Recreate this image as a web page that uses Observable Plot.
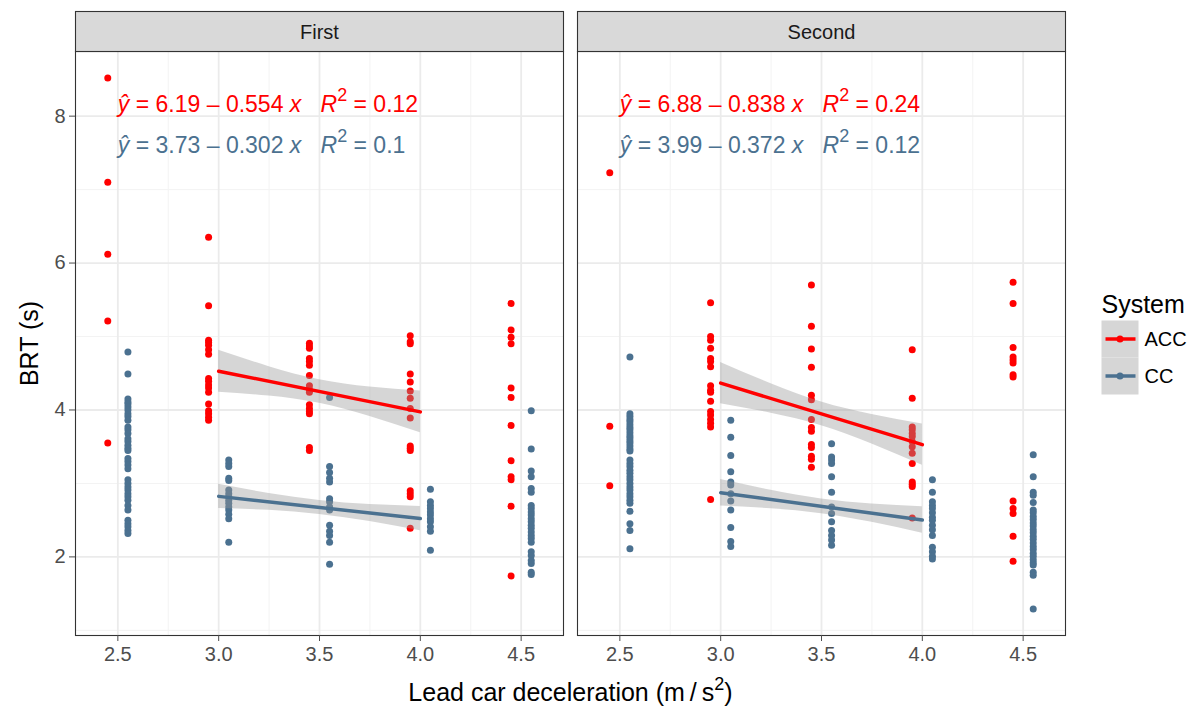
<!DOCTYPE html>
<html>
<head>
<meta charset="utf-8">
<script src="https://cdn.jsdelivr.net/npm/d3@7"></script>
<script src="https://cdn.jsdelivr.net/npm/@observablehq/plot@0.6"></script>
<style>
  body { margin: 0; background: #fff; }
  g[aria-label="x-axis tick"], g[aria-label="y-axis tick"] { stroke: #333333; }
</style>
</head>
<body>
<div id="chart"></div>
<script>
// ---- categories / scales ----
const sessions = ["First", "Second"];
const systems = ["ACC", "CC"];
const systemColors = ["#ff0000", "#4b7190"];
const levels = [2.5, 3.0, 3.5, 4.0, 4.5];
const dodge = { ACC: -0.05, CC: 0.05 };
const xDomain = [2.29, 4.71];
const yDomain = [0.93, 8.88];
const xTicks = [2.5, 3.0, 3.5, 4.0, 4.5];
const xMinor = [2.75, 3.25, 3.75, 4.25];
const yTicks = [2, 4, 6, 8];
const yMinor = [1, 3, 5, 7];

// ---- BRT values (s) per deceleration level ----
const firstACC = [
  [8.52, 7.10, 6.12, 5.21, 3.55],
  [6.35, 5.42, 4.95, 4.92, 4.88, 4.82, 4.76, 4.43, 4.39, 4.34, 4.30, 4.24, 4.08, 3.99, 3.95, 3.90, 3.86],
  [4.91, 4.87, 4.84, 4.70, 4.66, 4.61, 4.47, 4.33, 4.28, 4.24, 4.07, 4.02, 3.98, 3.95, 3.49, 3.45],
  [5.01, 4.93, 4.90, 4.49, 4.38, 4.26, 4.16, 4.02, 3.89, 3.51, 3.48, 3.45, 2.90, 2.86, 2.82, 2.39],
  [5.45, 5.09, 4.99, 4.90, 4.30, 4.17, 3.79, 3.31, 3.09, 3.05, 2.69, 1.74]
];
const firstCC = [
  [4.79, 4.49, 4.15, 4.11, 4.08, 4.04, 4.00, 3.95, 3.91, 3.86, 3.77, 3.73, 3.68, 3.61, 3.57, 3.52, 3.48, 3.45, 3.34, 3.30, 3.25, 3.20, 3.05, 3.00, 2.95, 2.91, 2.86, 2.82, 2.77, 2.70, 2.64, 2.50, 2.45, 2.41, 2.36, 2.32],
  [3.32, 3.27, 3.23, 3.07, 3.04, 2.91, 2.86, 2.82, 2.77, 2.73, 2.68, 2.64, 2.58, 2.52, 2.20],
  [4.17, 3.23, 3.15, 3.07, 3.02, 2.79, 2.75, 2.68, 2.64, 2.43, 2.35, 2.29, 2.20, 1.90],
  [2.92, 2.75, 2.70, 2.66, 2.61, 2.57, 2.52, 2.48, 2.41, 2.35, 2.09],
  [3.99, 3.47, 3.17, 3.09, 2.93, 2.88, 2.70, 2.66, 2.61, 2.57, 2.52, 2.48, 2.43, 2.39, 2.34, 2.29, 2.25, 2.20, 2.07, 2.02, 1.95, 1.91, 1.79, 1.76]
];
const secondACC = [
  [7.23, 3.78, 2.97],
  [5.46, 5.00, 4.95, 4.84, 4.70, 4.66, 4.59, 4.33, 4.27, 4.24, 4.12, 3.98, 3.93, 3.87, 3.82, 3.77, 2.78],
  [5.70, 5.14, 4.83, 4.58, 4.20, 4.14, 3.87, 3.76, 3.71, 3.53, 3.49, 3.37, 3.33, 3.22],
  [4.82, 4.16, 3.77, 3.73, 3.68, 3.64, 3.57, 3.50, 3.41, 3.27, 3.02, 2.99, 2.96, 2.53],
  [5.74, 5.45, 4.85, 4.72, 4.68, 4.64, 4.48, 4.45, 2.76, 2.66, 2.59, 2.28, 1.94]
];
const secondCC = [
  [4.72, 3.95, 3.91, 3.87, 3.84, 3.80, 3.76, 3.73, 3.69, 3.65, 3.62, 3.58, 3.55, 3.51, 3.47, 3.44, 3.32, 3.27, 3.23, 3.18, 3.14, 3.09, 3.05, 3.00, 2.95, 2.91, 2.86, 2.82, 2.77, 2.73, 2.62, 2.45, 2.36, 2.11],
  [3.86, 3.63, 3.38, 3.16, 3.02, 2.98, 2.86, 2.76, 2.64, 2.40, 2.21, 2.14],
  [3.54, 3.36, 3.32, 3.27, 3.09, 2.88, 2.68, 2.59, 2.48, 2.36, 2.29, 2.23, 2.16],
  [3.05, 2.88, 2.75, 2.70, 2.66, 2.60, 2.54, 2.50, 2.43, 2.37, 2.29, 2.13, 2.07, 2.01, 1.97],
  [3.39, 3.09, 2.88, 2.84, 2.74, 2.64, 2.60, 2.55, 2.51, 2.46, 2.42, 2.37, 2.33, 2.28, 2.24, 2.19, 2.14, 2.10, 2.05, 2.01, 1.96, 1.92, 1.89, 1.79, 1.75, 1.29]
];

// ---- fitted regressions (as printed) ----
const fitRange = [3.0, 4.0];
const intercepts = { First: [6.19, 3.73], Second: [6.88, 3.99] };
const slopes = { First: [0.554, 0.302], Second: [0.838, 0.372] };
const r2Labels = { First: ["0.12", "0.1"], Second: ["0.24", "0.12"] };
const ribbonX = [3.0, 3.25, 3.5, 3.75, 4.0];
const ribbonHalf = {
  First:  [[0.285, 0.20, 0.16, 0.20, 0.285], [0.165, 0.115, 0.095, 0.115, 0.165]],
  Second: [[0.28, 0.20, 0.16, 0.20, 0.28], [0.18, 0.125, 0.10, 0.125, 0.18]]
};
const eqX = 2.5;
const eqY = [8.16, 7.60];

// ---- tables ----
const groups = [
  { session: "First", system: "ACC", values: firstACC },
  { session: "First", system: "CC", values: firstCC },
  { session: "Second", system: "ACC", values: secondACC },
  { session: "Second", system: "CC", values: secondCC }
];
const points = [];
for (const g of groups) g.values.forEach((col, i) => col.forEach(v =>
  points.push({ session: g.session, system: g.system, level: levels[i], brt: v })));

const fits = [], ribbons = [], equations = [];
for (const s of sessions) systems.forEach((sys, j) => {
  const a = intercepts[s][j], b = slopes[s][j];
  fitRange.forEach(x => fits.push({ session: s, system: sys, x, y: a - b * x }));
  ribbonX.forEach((x, k) => {
    const f = a - b * x, h = ribbonHalf[s][j][k];
    ribbons.push({ session: s, system: sys, x, lo: f - h, hi: f + h });
  });
  equations.push({ session: s, system: sys, y: eqY[j],
    label: `ŷ = ${a.toFixed(2)} – ${b.toFixed(3)} x\u00A0\u00A0\u00A0R^2 = ${r2Labels[s][j]}` });
});

const plot = Plot.plot({
  width: 1193,
  height: 706,
  marginLeft: 74,
  marginRight: 127,
  marginTop: 51,
  marginBottom: 71,
  style: { fontFamily: "'Liberation Sans', Arial, sans-serif", fontSize: "20px", background: "#fff", color: "#4d4d4d" },
  fx: { domain: sessions, paddingInner: 0.027, paddingOuter: 0, axis: null, label: null },
  x: { domain: xDomain, label: null },
  y: { domain: yDomain, label: null },
  color: { domain: systems, range: systemColors },
  marks: [
    Plot.gridX(xMinor, { stroke: "#f3f3f3", strokeOpacity: 1, strokeWidth: 1 }),
    Plot.gridY(yMinor, { stroke: "#f3f3f3", strokeOpacity: 1, strokeWidth: 1 }),
    Plot.gridX(xTicks, { stroke: "#ebebeb", strokeOpacity: 1, strokeWidth: 1.8 }),
    Plot.gridY(yTicks, { stroke: "#ebebeb", strokeOpacity: 1, strokeWidth: 1.8 }),
    Plot.dot(points, { fx: "session", x: d => d.level + dodge[d.system], y: "brt", fill: "system", r: 3.5 }),
    Plot.areaY(ribbons, { fx: "session", x: "x", y1: "lo", y2: "hi", z: "system", fill: "#999999", fillOpacity: 0.4, curve: "natural" }),
    Plot.line(fits, { fx: "session", x: "x", y: "y", z: "system", stroke: "system", strokeWidth: 3.5 }),
    Plot.text(equations, { fx: "session", x: () => eqX, y: "y", text: "label", fill: "system", textAnchor: "start", fontSize: 23 }),
    Plot.frame({ stroke: "#333333", strokeWidth: 1.1 }),
    Plot.axisX(xTicks, { tickFormat: d3.format(".1f"), tickSize: 6, tickPadding: 5, fontSize: 20, color: "#4d4d4d", label: null }),
    Plot.axisY(yTicks, { tickFormat: d3.format("d"), tickSize: 6, tickPadding: 4, fontSize: 20, color: "#4d4d4d", label: null })
  ]
});

document.getElementById("chart").append(plot);
const svgSel = d3.select(plot);
const NS = "http://www.w3.org/2000/svg";

// rich text: italic letters and raised "^2"
function richText(el, s, italicChars, supSize, supShift) {
  el.textContent = "";
  const tokens = [];
  for (let i = 0; i < s.length; i++) {
    const ch = s[i];
    if (ch === "^") { tokens.push({ t: s[i + 1], sup: true }); i++; continue; }
    const it = italicChars.includes(ch);
    const last = tokens[tokens.length - 1];
    if (last && !last.sup && last.it === it) last.t += ch;
    else tokens.push({ t: ch, it });
  }
  let shifted = false;
  for (const tk of tokens) {
    const t = document.createElementNS(NS, "tspan");
    if (tk.it) t.setAttribute("font-style", "italic");
    if (tk.sup) { t.setAttribute("font-size", supSize); t.setAttribute("dy", -supShift); shifted = true; }
    else if (shifted) { t.setAttribute("dy", supShift); shifted = false; }
    t.textContent = tk.t;
    el.appendChild(t);
  }
}
Array.from(plot.querySelectorAll("text"))
  .filter(el => el.textContent.startsWith("ŷ"))
  .forEach(el => richText(el, el.textContent, ["ŷ", "x", "R"], 18, 11));

// panel geometry from frames
const svgBox = plot.getBoundingClientRect();
const panels = Array.from(plot.querySelectorAll('[aria-label="frame"] rect, rect[aria-label="frame"]')).map(r => {
  const b = r.getBoundingClientRect();
  return { x: b.left - svgBox.left, y: b.top - svgBox.top, w: b.width, h: b.height };
}).sort((a, b) => a.x - b.x);
const pLeft = d3.min(panels, p => p.x), pRight = d3.max(panels, p => p.x + p.w);
const pTop = d3.min(panels, p => p.y), pBottom = d3.max(panels, p => p.y + p.h);
const stripH = 40;

const deco = svgSel.append("g");
panels.forEach((p, i) => {
  deco.append("rect").attr("x", p.x).attr("y", p.y - stripH).attr("width", p.w).attr("height", stripH)
    .attr("fill", "#d9d9d9").attr("stroke", "#333333").attr("stroke-width", 1.1);
  deco.append("text").attr("x", p.x + p.w / 2).attr("y", p.y - stripH / 2).attr("text-anchor", "middle")
    .attr("dominant-baseline", "central").attr("font-size", 20).attr("fill", "#1a1a1a").text(sessions[i]);
});

// axis titles
const xt = deco.append("text").attr("x", (pLeft + pRight) / 2).attr("y", pBottom + 65).attr("text-anchor", "middle")
  .attr("font-size", 25).attr("fill", "#000");
richText(xt.node(), "Lead car deceleration (m\u2009/\u2009s^2)", [], 18, 11);
deco.append("text").attr("transform", `translate(${pLeft - 38},${(pTop + pBottom) / 2}) rotate(-90)`)
  .attr("text-anchor", "middle").attr("font-size", 25).attr("fill", "#000").text("BRT (s)");

// legend
const lx = pRight + 36, cy = (pTop + pBottom) / 2, keyH = 37, keyW = 37;
const lg = svgSel.append("g").attr("text-anchor", "start");
lg.append("text").attr("x", lx).attr("y", cy - 31).attr("font-size", 25).attr("fill", "#000").text("System");
systems.forEach((sys, i) => {
  const ky = cy - 23 + i * keyH;
  lg.append("rect").attr("x", lx).attr("y", ky).attr("width", keyW).attr("height", keyH).attr("fill", "#d6d6d6");
  lg.append("line").attr("x1", lx + 4).attr("x2", lx + keyW - 3).attr("y1", ky + keyH / 2).attr("y2", ky + keyH / 2)
    .attr("stroke", systemColors[i]).attr("stroke-width", 3.5);
  lg.append("circle").attr("cx", lx + keyW / 2).attr("cy", ky + keyH / 2).attr("r", 3.5).attr("fill", systemColors[i]);
  lg.append("text").attr("x", lx + keyW + 6).attr("y", ky + keyH / 2).attr("dominant-baseline", "central")
    .attr("font-size", 20).attr("fill", "#000").text(sys);
});
</script>
</body>
</html>
